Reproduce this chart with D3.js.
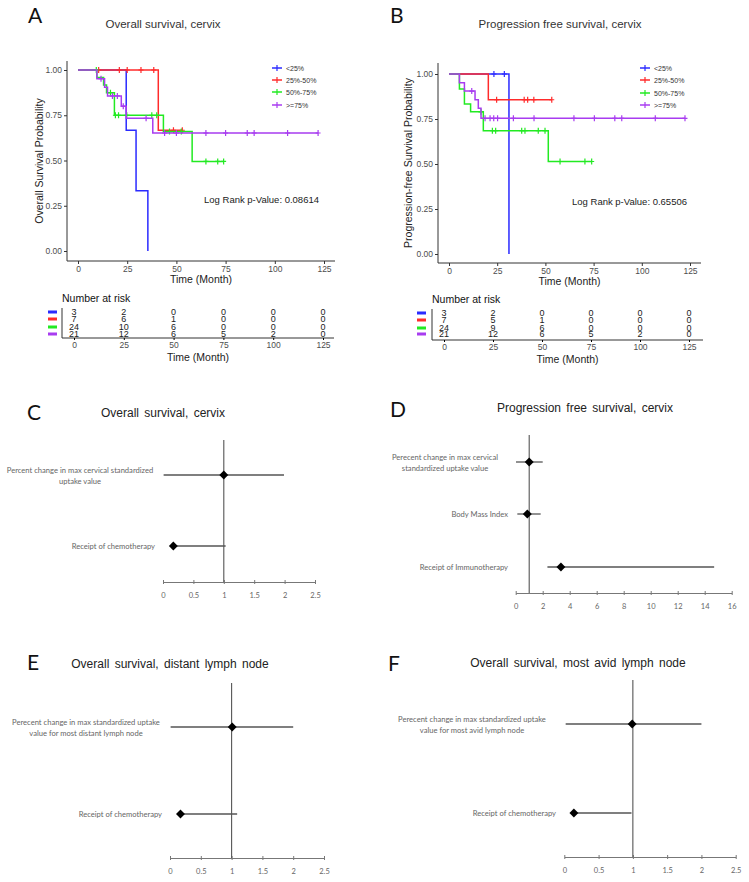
<!DOCTYPE html>
<html><head><meta charset="utf-8">
<script src="https://cdn.jsdelivr.net/npm/d3@7"></script>
<style>
body{margin:0;background:#fff}
svg text{font-family:"Liberation Sans",Arial,sans-serif}
.cal{font-family:Lato,"Open Sans",sans-serif !important}
</style>
</head><body><div id="fig"></div>
<script>
// ---- data ----
const groups = ["<25%", "25%-50%", "50%-75%", ">=75%"];
const groupColors = ["#2b2bff", "#ff2b2b", "#22ea22", "#a83cf0"];
const riskTimes = [0, 25, 50, 75, 100, 125];
const kmXTicks = [0, 25, 50, 75, 100, 125];
const kmYTicks = [0, 0.25, 0.5, 0.75, 1];

// overall survival (A): events [month, survival after], censored months
const osEvents = [
  [[24.5, 0.667], [29.5, 0.333], [35.5, 0]],
  [[40.8, 0.667]],
  [[9.6, 0.958], [13, 0.917], [14.5, 0.875], [18.5, 0.75], [43.4, 0.66], [58, 0.495]],
  [[9.6, 0.952], [13.5, 0.905], [15, 0.857], [22, 0.8], [24.5, 0.733], [38, 0.652]]
];
const osCensor = [
  [],
  [10.5, 21, 25, 32, 38.5, 48.5, 53],
  [9.3, 16.5, 19, 20.6, 24.8, 37.5, 40, 46.5, 52.5, 65, 71, 74],
  [11.7, 17.5, 20, 23, 34.6, 44, 50, 65, 75, 86, 89.5, 106.5, 122]
];
const osRisk = [[3, 2, 0, 0, 0, 0], [7, 6, 1, 0, 0, 0], [24, 10, 6, 0, 0, 0], [21, 12, 6, 5, 2, 0]];

// progression free survival (B)
const pfsEvents = [
  [[31.1, 0]],
  [[20.4, 0.857]],
  [[5.4, 0.917], [8, 0.833], [11.2, 0.79], [17.8, 0.685], [51.5, 0.514]],
  [[5.4, 0.952], [8, 0.905], [13.5, 0.857], [15.2, 0.81], [16.6, 0.754]]
];
const pfsCensor = [
  [23.3, 28.7],
  [24.7, 39, 40.8, 44, 53.3],
  [16.6, 22.5, 24.2, 37.7, 39.4, 46.3, 49.8, 57.6, 70.5, 74],
  [11.8, 18.7, 21.3, 23.2, 25.2, 33.4, 44.1, 64.8, 75.4, 86, 89.6, 107, 122.4]
];
const pfsRisk = [[3, 2, 0, 0, 0, 0], [7, 5, 1, 0, 0, 0], [24, 9, 6, 0, 0, 0], [21, 12, 6, 5, 2, 0]];

// forest plots (hazard ratio with 95% CI)
const cLabels = ["Percent change in max cervical standardized\nuptake value", "Receipt of chemotherapy"];
const cEst = [1.0, 0.17], cLo = [0.01, 0.13], cHi = [1.99, 1.03];
const dLabels = ["Perecent change in max cervical\nstandardized uptake value", "Body Mass Index", "Receipt of Immunotherapy"];
const dEst = [1.0, 0.86, 3.35], dLo = [0.02, 0.12, 2.35], dHi = [2.0, 1.85, 14.7];
const eLabels = ["Perecent change in max standardized uptake\nvalue for most distant lymph node", "Receipt of chemotherapy"];
const eEst = [1.01, 0.17], eLo = [0.01, 0.14], eHi = [2.0, 1.09];
const fLabels = ["Perecent change in max standardized uptake\nvalue for most avid lymph node", "Receipt of chemotherapy"];
const fEst = [0.99, 0.14], fLo = [0.02, 0.11], fHi = [2.0, 0.98];
const hrTicksSmall = [0, 0.5, 1, 1.5, 2, 2.5];
const hrTicksBig = [0, 2, 4, 6, 8, 10, 12, 14, 16];

// ---- drawing ----
let svg = d3.select("#fig").append("svg").attr("width", 749).attr("height", 882);

function letter(txt, x, y){
  svg.append("text").attr("x", x).attr("y", y).text(txt)
    .attr("font-size", 21).attr("fill", "#111").attr("class", "cal");
}

function survAt(ev, t){
  let s = 1;
  ev.forEach(function(e){ if(e[0] <= t) s = e[1]; });
  return s;
}

function kmPanel(c){
  letter(c.letter, c.letterX, c.letterY);
  svg.append("text").attr("x", c.titleX).attr("y", c.titleY).text(c.title)
    .attr("font-size", 11.5).attr("fill", "#333").attr("text-anchor", "middle");

  let x = d3.scaleLinear().domain([0, 125]).range(c.xr);
  let y = d3.scaleLinear().domain([0, 1]).range(c.yr);
  let g = svg.append("g");

  // axes
  let ax = g.append("g").attr("transform", "translate(0," + c.bottom + ")")
    .call(d3.axisBottom(x).tickValues(kmXTicks).tickSize(3).tickPadding(2));
  let ay = g.append("g").attr("transform", "translate(" + c.left + ",0)")
    .call(d3.axisLeft(y).tickValues(kmYTicks).tickFormat(d3.format(".2f")).tickSize(3).tickPadding(2));
  [ax, ay].forEach(function(a){
    a.select(".domain").remove();
    a.selectAll(".tick line").attr("stroke", "#333");
    a.selectAll(".tick text").attr("font-size", 8.5).attr("fill", "#4d4d4d").attr("font-family", "Liberation Sans");
  });
  g.append("line").attr("x1", c.left).attr("x2", c.left).attr("y1", c.top).attr("y2", c.bottom).attr("stroke", "#333");
  g.append("line").attr("x1", c.left).attr("x2", c.right).attr("y1", c.bottom).attr("y2", c.bottom).attr("stroke", "#333");

  g.append("text").attr("x", (c.left + c.right) / 2).attr("y", c.bottom + 22).text("Time (Month)")
    .attr("font-size", 10.5).attr("fill", "#222").attr("text-anchor", "middle");
  g.append("text").attr("transform", "translate(" + c.ylabX + "," + ((c.top + c.bottom) / 2) + ") rotate(-90)")
    .text(c.ylabel).attr("font-size", 10.5).attr("fill", "#222").attr("text-anchor", "middle");

  // curves
  let line = d3.line().x(function(d){ return x(d[0]); }).y(function(d){ return y(d[1]); }).curve(d3.curveStepAfter);
  c.events.forEach(function(ev, i){
    let cens = c.censor[i];
    let last = ev[ev.length - 1][0];
    let end = Math.max(last, cens.length ? cens[cens.length - 1] : 0);
    let pts = [[0, 1]].concat(ev);
    pts.push([end, survAt(ev, end)]);
    g.append("path").attr("d", line(pts)).attr("fill", "none")
      .attr("stroke", groupColors[i]).attr("stroke-width", 1.5);
    cens.forEach(function(t){
      let cx = x(t), cy = y(survAt(ev, t));
      g.append("path").attr("d", "M" + cx + "," + (cy - 3) + "V" + (cy + 3) + "M" + (cx - 2.5) + "," + cy + "H" + (cx + 2.5))
        .attr("stroke", groupColors[i]).attr("stroke-width", 1.2);
    });
  });

  // legend
  groups.forEach(function(gname, i){
    let ly = c.legY[i];
    g.append("line").attr("x1", c.legX).attr("x2", c.legX + 10).attr("y1", ly).attr("y2", ly)
      .attr("stroke", groupColors[i]).attr("stroke-width", 1.5);
    g.append("line").attr("x1", c.legX + 5).attr("x2", c.legX + 5).attr("y1", ly - 3).attr("y2", ly + 3)
      .attr("stroke", groupColors[i]).attr("stroke-width", 1.2);
    g.append("text").attr("x", c.legX + 14).attr("y", ly).text(gname)
      .attr("font-size", 7).attr("fill", "#333").attr("dominant-baseline", "central");
  });

  g.append("text").attr("x", c.pX).attr("y", c.pY).text(c.pText)
    .attr("font-size", 9.5).attr("fill", "#222").attr("text-anchor", "end");

  // number at risk table
  let rx = d3.scaleLinear().domain([0, 125]).range(c.riskXr);
  let r = c.risk;
  g.append("text").attr("x", r.left).attr("y", r.titleY).text("Number at risk")
    .attr("font-size", 10.5).attr("fill", "#111");
  g.append("line").attr("x1", r.left).attr("x2", r.left).attr("y1", r.top).attr("y2", r.bottom).attr("stroke", "#333");
  g.append("line").attr("x1", r.left).attr("x2", r.right).attr("y1", r.bottom).attr("y2", r.bottom).attr("stroke", "#333");
  let rax = g.append("g").attr("transform", "translate(0," + r.bottom + ")")
    .call(d3.axisBottom(rx).tickValues(riskTimes).tickSize(2).tickPadding(2));
  rax.select(".domain").remove();
  rax.selectAll(".tick text").attr("font-size", 8.5).attr("fill", "#4d4d4d").attr("font-family", "Liberation Sans");
  g.append("text").attr("x", (r.left + r.right) / 2).attr("y", r.bottom + 23).text("Time (Month)")
    .attr("font-size", 10.5).attr("fill", "#222").attr("text-anchor", "middle");
  c.riskData.forEach(function(row, i){
    let ry = r.rows[i];
    g.append("rect").attr("x", r.barX).attr("y", ry - 1.5).attr("width", 9).attr("height", 3).attr("fill", groupColors[i]);
    row.forEach(function(v, j){
      g.append("text").attr("x", rx(riskTimes[j])).attr("y", ry).text(v)
        .attr("font-size", 9).attr("fill", "#222").attr("text-anchor", "middle")
        .attr("dominant-baseline", "central");
    });
  });
}

function forestPanel(c){
  letter(c.letter, c.letterX, c.letterY);
  svg.append("text").attr("x", c.titleX).attr("y", c.titleY).text(c.title)
    .attr("font-size", 12).attr("fill", "#222").attr("text-anchor", "middle").attr("word-spacing", 2);
  let x = d3.scaleLinear().domain([0, c.ticks[c.ticks.length - 1]]).range(c.xr);
  let g = svg.append("g");
  let ax = g.append("g").attr("transform", "translate(0," + c.axisY + ")")
    .call(d3.axisBottom(x).tickValues(c.ticks).tickFormat(function(d){ return String(d); }).tickSizeOuter(0).tickPadding(5));
  ax.select(".domain").attr("stroke", "#777");
  ax.selectAll(".tick line").attr("y1", -2).attr("y2", 2).attr("stroke", "#777");
  ax.selectAll(".tick text").attr("font-size", 7.5).attr("fill", "#666").attr("class", "cal");
  g.append("line").attr("x1", x(1)).attr("x2", x(1)).attr("y1", c.vTop).attr("y2", c.axisY)
    .attr("stroke", "#555").attr("stroke-width", 1.1);
  c.labels.forEach(function(lab, i){
    let ry = c.rows[i];
    g.append("line").attr("x1", x(c.lo[i])).attr("x2", x(c.hi[i])).attr("y1", ry).attr("y2", ry)
      .attr("stroke", "#555").attr("stroke-width", 1.3);
    g.append("path").attr("d", d3.symbol(d3.symbolSquare, 40)())
      .attr("transform", "translate(" + x(c.est[i]) + "," + ry + ") rotate(45)").attr("fill", "#000");
    let lines = lab.split("\n");
    if(lines.length > 1){
      lines.forEach(function(l, k){
        g.append("text").attr("x", c.twoX).attr("y", ry - 5.5 + k * 11).text(l).attr("class", "cal")
          .attr("font-size", 7.6).attr("fill", "#666").attr("text-anchor", "middle").attr("dominant-baseline", "central");
      });
    } else {
      g.append("text").attr("x", c.labX).attr("y", ry).text(lab).attr("class", "cal")
        .attr("font-size", 7.6).attr("fill", "#666").attr("text-anchor", "end").attr("dominant-baseline", "central");
    }
  });
}

kmPanel({
  letter: "A", letterX: 28, letterY: 23,
  title: "Overall survival, cervix", titleX: 163, titleY: 28,
  xr: [78, 324], yr: [251, 70], left: 67, right: 335, top: 61, bottom: 261,
  ylabel: "Overall Survival Probability", ylabX: 43,
  events: osEvents, censor: osCensor, riskData: osRisk,
  legX: 272, legY: [68, 80, 92, 105],
  pText: "Log Rank p-Value: 0.08614", pX: 319, pY: 203,
  riskXr: [74, 323],
  risk: {left: 62, right: 334, top: 308, bottom: 338, titleY: 302, barX: 48, rows: [312, 319, 327, 334]}
});
kmPanel({
  letter: "B", letterX: 390, letterY: 23,
  title: "Progression free survival, cervix", titleX: 560, titleY: 28,
  xr: [449, 690], yr: [254, 74], left: 438, right: 701, top: 63, bottom: 263,
  ylabel: "Progression-free Survival Probability", ylabX: 412,
  events: pfsEvents, censor: pfsCensor, riskData: pfsRisk,
  legX: 640, legY: [68, 80, 93, 105],
  pText: "Log Rank p-Value: 0.65506", pX: 687, pY: 205,
  riskXr: [444, 689],
  risk: {left: 432, right: 703, top: 309, bottom: 340, titleY: 303, barX: 417, rows: [313, 320, 328, 334]}
});

forestPanel({
  letter: "C", letterX: 27, letterY: 420, title: "Overall survival, cervix", titleX: 163, titleY: 417,
  xr: [163, 315], ticks: hrTicksSmall, axisY: 582, vTop: 440, rows: [475, 546],
  labels: cLabels, est: cEst, lo: cLo, hi: cHi, twoX: 80, labX: 155
});
forestPanel({
  letter: "D", letterX: 390, letterY: 417, title: "Progression free survival, cervix", titleX: 585, titleY: 412,
  xr: [515.7, 731.7], ticks: hrTicksBig, axisY: 593, vTop: 435, rows: [462, 514, 567],
  labels: dLabels, est: dEst, lo: dLo, hi: dHi, twoX: 445, labX: 508
});
forestPanel({
  letter: "E", letterX: 27, letterY: 670, title: "Overall survival, distant lymph node", titleX: 170, titleY: 668,
  xr: [170, 324], ticks: hrTicksSmall, axisY: 858, vTop: 683, rows: [727, 814],
  labels: eLabels, est: eEst, lo: eLo, hi: eHi, twoX: 86, labX: 162
});
forestPanel({
  letter: "F", letterX: 388, letterY: 671, title: "Overall survival, most avid lymph node", titleX: 578, titleY: 667,
  xr: [564.3, 735.7], ticks: hrTicksSmall, axisY: 857, vTop: 680, rows: [724, 813],
  labels: fLabels, est: fEst, lo: fLo, hi: fHi, twoX: 472, labX: 556
});
</script>
</body></html>
